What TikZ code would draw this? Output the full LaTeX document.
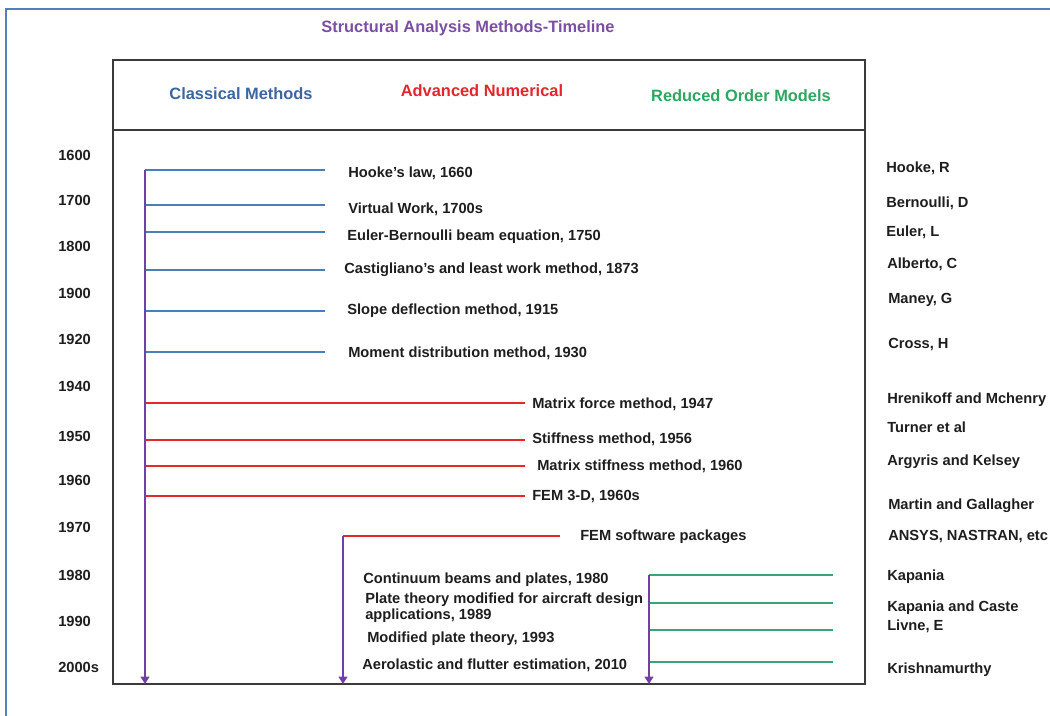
\documentclass[tikz,border=0pt]{standalone}
\usepackage{fontspec}
\setmainfont{Liberation Sans}
\usetikzlibrary{arrows.meta}

\definecolor{frameblue}{HTML}{4F81BD}
\definecolor{titlepurple}{HTML}{7A4FA3}
\definecolor{classblue}{HTML}{3D66A0}
\definecolor{advred}{HTML}{E3262B}
\definecolor{romgreen}{HTML}{2EA560}
\definecolor{lineblue}{HTML}{4A7EBB}
\definecolor{linered}{HTML}{E42A2A}
\definecolor{linegreen}{HTML}{36A579}
\definecolor{axispurple}{HTML}{7040A6}
\definecolor{boxgray}{HTML}{3A3A3A}
\definecolor{inkgray}{HTML}{1E1E1E}

\tikzset{
  lbl/.style={font=\bfseries\fontsize{11}{13}\selectfont, text=inkgray,
    inner sep=0pt, anchor=base west},
  headlbl/.style={font=\bfseries\fontsize{12.3}{14}\selectfont, inner sep=0pt},
  classline/.style={draw=lineblue, line width=2.2pt},
  advline/.style={draw=linered, line width=2.2pt},
  romline/.style={draw=linegreen, line width=2.2pt},
  axisarrow/.style={draw=axispurple, line width=2pt,
    -{Triangle[length=5.5pt,width=6.5pt]}},
}

\begin{document}
\begin{tikzpicture}[x=0.75pt,y=-0.75pt]
\useasboundingbox (0,0) rectangle (1050,715);
\clip (0,0) rectangle (1050,715);

% outer frame
\draw[frameblue, line width=1.9pt] (6,720) -- (6,9) -- (1060,9);

% title
\node[headlbl, text=titlepurple] (title) at (468,28) {Structural Analysis Methods-Timeline};

% main box with header row
\draw[boxgray, line width=1.6pt] (113,60) rectangle (865,684);
\draw[boxgray, line width=1.6pt] (113,130) -- (865,130);
\node[headlbl, text=classblue] (hclass) at (241,94) {Classical Methods};
\node[headlbl, text=advred] (hadv) at (482,91) {Advanced Numerical};
\node[headlbl, text=romgreen] (hrom) at (741,96) {Reduced Order Models};

% year scale
\foreach \n/\y/\t in {1/155/1600, 2/200/1700, 3/246/1800, 4/293/1900,
    5/339/1920, 6/386/1940, 7/436/1950, 8/480/1960, 9/527/1970,
    10/575/1980, 11/621/1990, 12/667/2000s}
  \node[lbl] (yr\n) at (58,\y+5) {\t};

% timeline axes
\coordinate (axA) at (145,170);
\coordinate (axAend) at (145,684);
\coordinate (axB) at (343,536);
\coordinate (axBend) at (343,684);
\coordinate (axC) at (649,575);
\coordinate (axCend) at (649,684);

% classical methods
\foreach \n/\ly/\tx/\ty/\t in {
    1/170/348/172/{Hooke's law, 1660},
    2/205/348/208/{Virtual Work, 1700s},
    3/232/347/235/{Euler-Bernoulli beam equation, 1750},
    4/270/344/268/{Castigliano's and least work method, 1873},
    5/311/347/309/{Slope deflection method, 1915},
    6/352/348/352/{Moment distribution method, 1930}} {
  \coordinate (cs\n) at (145,\ly);
  \coordinate (ce\n) at (325,\ly);
  \draw[classline] (cs\n) -- (ce\n);
  \node[lbl] (cl\n) at (\tx,\ty+5) {\t};
}

% advanced numerical
\foreach \n/\ly/\tx/\ty/\t in {
    1/403/532/403/{Matrix force method, 1947},
    2/440/532/438/{Stiffness method, 1956},
    3/466/537/465/{Matrix stiffness method, 1960},
    4/496/532/495/{FEM 3-D, 1960s}} {
  \coordinate (as\n) at (145,\ly);
  \coordinate (ae\n) at (525,\ly);
  \draw[advline] (as\n) -- (ae\n);
  \node[lbl] (al\n) at (\tx,\ty+5) {\t};
}
\coordinate (ae5) at (560,536);
\draw[advline] (axB) -- (ae5);
\node[lbl] (al5) at (580,540) {FEM software packages};

% reduced order models
\foreach \n/\ly in {1/575, 2/603, 3/630, 4/662} {
  \coordinate (rs\n) at (649,\ly);
  \coordinate (re\n) at (833,\ly);
  \draw[romline] (rs\n) -- (re\n);
}
\node[lbl] (rl1) at (363,583) {Continuum beams and plates, 1980};
\node[lbl] (rl2) at (365,603) {Plate theory modified for aircraft design};
\node[lbl] (rl2b) at (365,619) {applications, 1989};
\node[lbl] (rl3) at (367,642) {Modified plate theory, 1993};
\node[lbl] (rl4) at (362,669) {Aerolastic and flutter estimation, 2010};

% vertical axes drawn over the branch starts
\draw[axisarrow] (axA) -- (axAend);
\draw[axisarrow] (axB) -- (axBend);
\draw[axisarrow] (axC) -- (axCend);

% contributors
\foreach \n/\x/\y/\t in {
    1/886/167/{Hooke, R},
    2/886/202/{Bernoulli, D},
    3/886/231/{Euler, L},
    4/887/263/{Alberto, C},
    5/888/298/{Maney, G},
    6/888/343/{Cross, H},
    7/887/398/{Hrenikoff and Mchenry},
    8/887/427/{Turner et al},
    9/887/460/{Argyris and Kelsey},
    10/888/504/{Martin and Gallagher},
    11/888/535/{ANSYS, NASTRAN, etc},
    12/887/575/{Kapania},
    13/887/606/{Kapania and Caste},
    14/887/625/{Livne, E},
    15/887/668/{Krishnamurthy}}
  \node[lbl] (who\n) at (\x,\y+5) {\t};
\end{tikzpicture}
\end{document}
